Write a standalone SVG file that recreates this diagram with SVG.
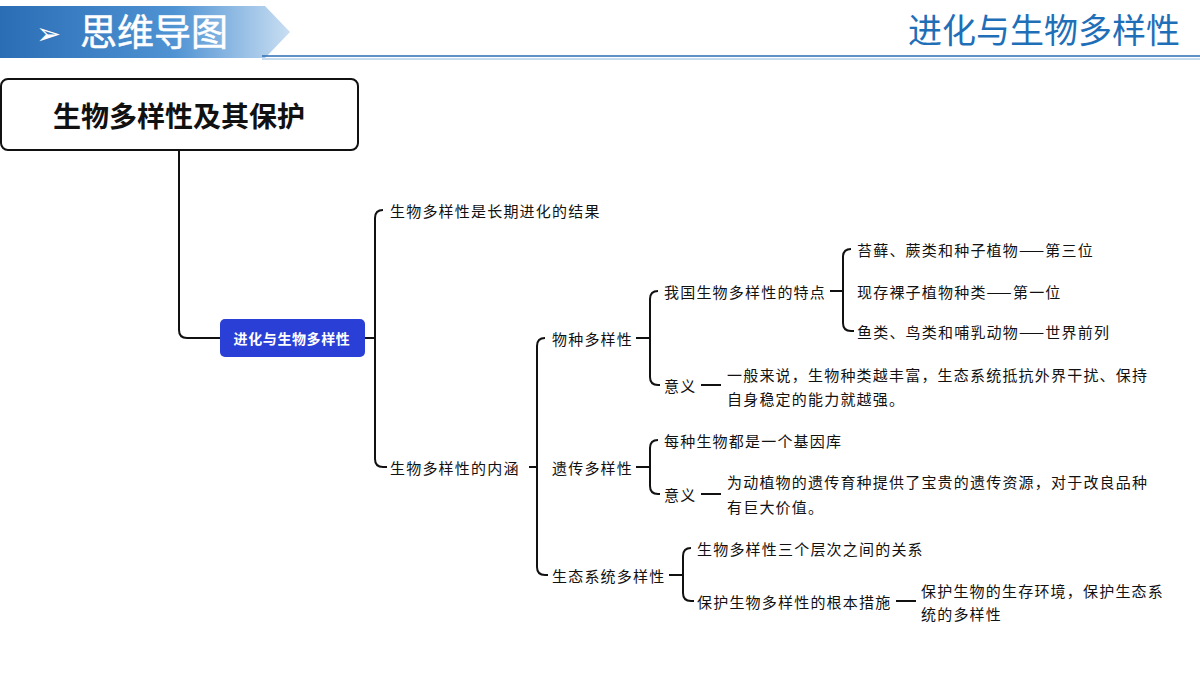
<svg xmlns="http://www.w3.org/2000/svg" width="1200" height="675" viewBox="0 0 1200 675">
<style>
text{font-family:"Noto Sans CJK SC","Noto Sans",sans-serif;}
.t{font-size:15px;letter-spacing:1.2px;fill:#111;dominant-baseline:central}
.c{fill:none;stroke:#111;stroke-width:2}
</style>
<defs>
<linearGradient id="hg" x1="0" x2="1" y1="0" y2="0">
<stop offset="0" stop-color="#2a6db5"/><stop offset="0.6" stop-color="#4f93d3"/><stop offset="1" stop-color="#c9def2"/>
</linearGradient>
</defs>
<rect width="1200" height="675" fill="#fff"/>
<g id="header">
<polygon points="0,6 265,6 290,32 265,58 0,58" fill="url(#hg)"/>
<line x1="262" y1="56" x2="1200" y2="56" stroke="#2a6db5" stroke-width="1.5"/>
<line x1="262" y1="59" x2="1200" y2="59" stroke="#8fb8e0" stroke-width="1"/>
<text x="36" y="44" font-size="30" font-family="DejaVu Sans, sans-serif" fill="#fff">➢</text>
<text x="80" y="46" font-size="37" fill="#fff" stroke="#fff" stroke-width="0.5">思维导图</text>
<text x="1180" y="43" font-size="34" fill="#1f6fb8" text-anchor="end">进化与生物多样性</text>
</g>
<g id="connectors">
<path class="c" d="M179,150 V330 Q179,338 187,338 H220"/>
<path class="c" d="M365,338 H375 M383,210 Q375,210 375,218 V459 Q375,467 383,467 H387"/>
<path class="c" d="M529,467 H537 M545,338 Q537,338 537,346 V567 Q537,575 545,575 H548"/>
<path class="c" d="M636,338 H650 M658,291 Q650,291 650,299 V377 Q650,385 658,385 H660"/>
<path class="c" d="M830,291 H843 M851,249 Q843,249 843,257 V323 Q843,331 851,331 H854"/>
<path class="c" d="M701,385 H721"/>
<path class="c" d="M636,467 H650 M658,440 Q650,440 650,448 V486 Q650,494 658,494 H660"/>
<path class="c" d="M701,494 H721"/>
<path class="c" d="M669,575 H683 M691,548 Q683,548 683,556 V593 Q683,601 691,601 H694"/>
<path class="c" d="M896,601 H916"/>
</g>
<g id="root"><rect x="1" y="79" width="357" height="71" rx="7" fill="#fff" stroke="#111" stroke-width="2"/>
<text x="179" y="115" font-size="28" font-weight="bold" text-anchor="middle" dominant-baseline="central" fill="#111">生物多样性及其保护</text></g>
<g id="main"><rect x="220" y="319" width="145" height="38" rx="5" fill="#2a3fd6"/>
<text x="292" y="338" font-size="14" letter-spacing="0.6" font-weight="bold" fill="#fff" text-anchor="middle" dominant-baseline="central">进化与生物多样性</text></g>
<g id="n1"><text class="t" x="390" y="210">生物多样性是长期进化的结果</text></g>
<g id="n2"><text class="t" x="390" y="467">生物多样性的内涵</text></g>
<g id="n3"><text class="t" x="552" y="338">物种多样性</text></g>
<g id="n4"><text class="t" x="552" y="467">遗传多样性</text></g>
<g id="n5"><text class="t" x="552" y="575">生态系统多样性</text></g>
<g id="n6"><text class="t" x="664" y="291">我国生物多样性的特点</text></g>
<g id="n7"><text class="t" x="857" y="249">苔藓、蕨类和种子植物——第三位</text></g>
<g id="n8"><text class="t" x="857" y="291">现存裸子植物种类——第一位</text></g>
<g id="n9"><text class="t" x="857" y="331">鱼类、鸟类和哺乳动物——世界前列</text></g>
<g id="n10"><text class="t" x="664" y="385">意义</text></g>
<g id="n11"><text class="t" x="727" y="374">一般来说，生物种类越丰富，生态系统抵抗外界干扰、保持</text><text class="t" x="727" y="398">自身稳定的能力就越强。</text></g>
<g id="n12"><text class="t" x="664" y="440">每种生物都是一个基因库</text></g>
<g id="n13"><text class="t" x="664" y="494">意义</text></g>
<g id="n14"><text class="t" x="727" y="481">为动植物的遗传育种提供了宝贵的遗传资源，对于改良品种</text><text class="t" x="727" y="506">有巨大价值。</text></g>
<g id="n15"><text class="t" x="697" y="548">生物多样性三个层次之间的关系</text></g>
<g id="n16"><text class="t" x="697" y="601">保护生物多样性的根本措施</text></g>
<g id="n17"><text class="t" x="921" y="590">保护生物的生存环境，保护生态系</text><text class="t" x="921" y="613">统的多样性</text></g>
</svg>
